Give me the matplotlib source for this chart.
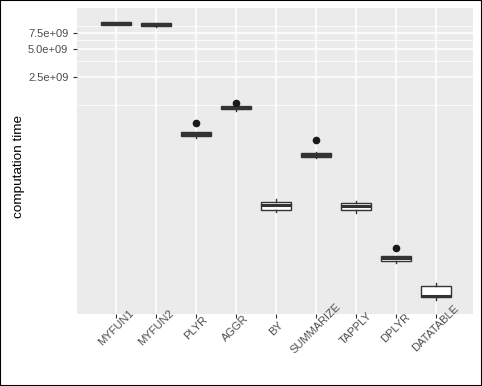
import numpy as np
import matplotlib
matplotlib.use("Agg")
import matplotlib.pyplot as plt
from matplotlib.patches import Rectangle
from matplotlib.ticker import FixedLocator, NullFormatter

plt.rcParams['font.family'] = ['Liberation Sans', 'DejaVu Sans']

# values (log10 y axis)
methods = ["MYFUN1", "MYFUN2", "PLYR", "AGGR", "BY", "SUMMARIZE", "TAPPLY", "DPLYR", "DATATABLE"]
whis_lo = [9.10e9, 8.54e9, 5.62e8, 1.071e9, 8.91e7, 3.39e8, 8.84e7, 2.52e7, 1.017e7]
q1 = [9.13e9, 8.87e9, 5.80e8, 1.125e9, 9.45e7, 3.48e8, 9.45e7, 2.70e7, 1.104e7]
med = [9.43e9, 9.20e9, 6.09e8, 1.167e9, 1.076e8, 3.65e8, 1.037e8, 2.85e7, 1.136e7]
q3 = [9.73e9, 9.59e9, 6.39e8, 1.217e9, 1.15e8, 3.83e8, 1.111e8, 3.00e7, 1.445e7]
whis_hi = [9.78e9, 9.62e9, 6.45e8, 1.24e9, 1.24e8, 3.90e8, 1.167e8, 3.05e7, 1.57e7]
outliers = [[], [], [8.13e8], [1.31e9], [], [5.32e8], [], [3.65e7], []]

major_breaks = [2.5e9, 5.0e9, 7.5e9]
minor_breaks = [1.25e9, 3.75e9, 6.25e9, 8.75e9]

stats = []
for i in range(len(methods)):
    stats.append(dict(label=methods[i], whislo=whis_lo[i], q1=q1[i], med=med[i],
                      q3=q3[i], whishi=whis_hi[i], fliers=outliers[i]))

fig = plt.figure(figsize=(4.82, 3.86), dpi=100)
ax = fig.add_axes([77/482, 1 - 314/386, 396/482, 306/386])
ax.set_facecolor('#EBEBEB')
for s in ax.spines.values():
    s.set_visible(False)

ax.set_yscale('log')
ax.bxp(stats, positions=range(1, len(methods) + 1), widths=0.76, showcaps=False,
       patch_artist=True,
       boxprops=dict(facecolor='white', edgecolor='#333333', linewidth=1.0),
       medianprops=dict(color='#333333', linewidth=2.2),
       whiskerprops=dict(color='#333333', linewidth=1.0),
       flierprops=dict(marker='o', markerfacecolor='#1a1a1a', markeredgecolor='#1a1a1a',
                       markersize=4.5), zorder=3)

# limits with 5% expansion in log space
all_vals = whis_lo + whis_hi + [v for o in outliers for v in o]
lmin, lmax = np.log10(min(all_vals)), np.log10(max(all_vals))
span = lmax - lmin
ax.set_ylim(10 ** (lmin - 0.05 * span), 10 ** (lmax + 0.05 * span))
ax.set_xlim(1 - 0.97, len(methods) + 0.93)

ax.yaxis.set_major_locator(FixedLocator(major_breaks))
ax.yaxis.set_minor_locator(FixedLocator(minor_breaks))
ax.yaxis.set_minor_formatter(NullFormatter())
ax.set_yticklabels([f"{v:.1e}" for v in major_breaks])

ax.set_xticks(range(1, len(methods) + 1))
ax.set_xticklabels(methods, rotation=45, ha='center', va='center', rotation_mode='anchor')

ax.grid(True, which='major', color='white', linewidth=1.1, zorder=0)
ax.grid(True, which='minor', axis='y', color='white', linewidth=0.55, zorder=0)
ax.set_axisbelow(True)

ax.tick_params(which='major', length=2.75, width=0.8, color='#333333',
               labelcolor='#4D4D4D', labelsize=8)
ax.tick_params(axis='x', which='major', pad=7.5)
ax.tick_params(which='minor', length=0)

fig.text(19/482, 1 - 166/386, "computation time", rotation=90, ha='center', va='center',
         fontsize=9.7, color='black')

fig.patches.append(Rectangle((0, 0), 1, 1, transform=fig.transFigure, fill=False,
                             edgecolor='black', linewidth=1.5))

fig.savefig('out.png', dpi=100)
